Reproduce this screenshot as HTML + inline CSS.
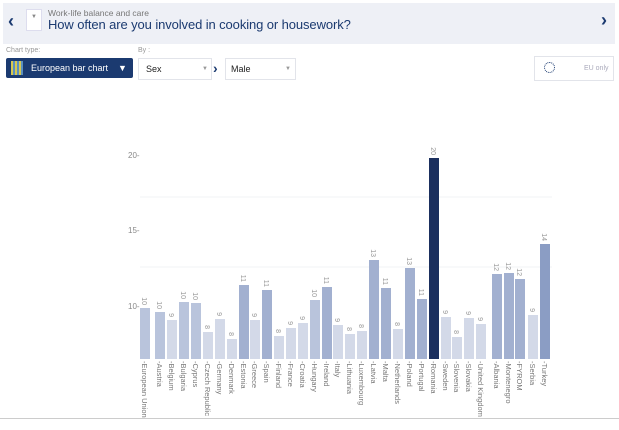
<!DOCTYPE html>
<html><head><meta charset="utf-8"><style>
body{margin:0;width:619px;height:430px;background:#fff;font-family:"Liberation Sans",sans-serif;overflow:hidden;position:relative}
.hdr{position:absolute;left:3px;top:3px;width:612px;height:41px;background:#eef0f6}
.abs{position:absolute}
</style></head><body>
<div class="hdr"></div>
<div class="abs" style="left:8px;top:11px;font-size:18px;color:#1b3a70;font-weight:bold">‹</div>
<div class="abs" style="left:26px;top:9px;width:14px;height:20px;background:#fff;border:1px solid #dde;font-size:6px;color:#888;text-align:center;line-height:14px">▼</div>
<div class="abs" style="left:48px;top:8px;font-size:8.5px;color:#777">Work-life balance and care</div>
<div class="abs" style="left:48px;top:17px;font-size:13px;color:#1b3a70;letter-spacing:-0.1px">How often are you involved in cooking or housework?</div>
<div class="abs" style="left:601px;top:10px;font-size:18px;color:#1b3a70;font-weight:bold">›</div>
<div class="abs" style="left:6px;top:47px;font-size:7px;color:#999">Chart type:</div>
<div class="abs" style="left:138px;top:47px;font-size:7px;color:#999">By :</div>
<div class="abs" style="left:6px;top:58px;width:127px;height:20px;background:#1b3a70;border-radius:2px"></div>
<div class="abs" style="left:11px;top:61px;width:12px;height:14px;background:repeating-linear-gradient(90deg,#d6c850 0 2px,#5a8fc0 2px 4px)"></div>
<div class="abs" style="left:31px;top:63px;font-size:9px;color:#fff">European bar chart</div>
<div class="abs" style="left:118px;top:63px;font-size:9px;color:#fff">▼</div>
<div class="abs" style="left:138px;top:58px;width:72px;height:20px;border:1px solid #e2e4ea;background:#fff"></div>
<div class="abs" style="left:146px;top:64px;font-size:9px;color:#222">Sex</div>
<div class="abs" style="left:202px;top:66px;font-size:6px;color:#999">▼</div>
<div class="abs" style="left:213px;top:60px;font-size:14px;color:#1b3a70;font-weight:bold">›</div>
<div class="abs" style="left:225px;top:58px;width:69px;height:20px;border:1px solid #e2e4ea;background:#fff"></div>
<div class="abs" style="left:231px;top:64px;font-size:9px;color:#222">Male</div>
<div class="abs" style="left:285px;top:66px;font-size:6px;color:#999">▼</div>
<div class="abs" style="left:534px;top:56px;width:78px;height:23px;border:1px solid #e2e4ea;background:#fff"></div>
<div class="abs" style="left:544px;top:62px;width:9px;height:9px;border:1px dotted #1b3a70;border-radius:50%"></div>
<div class="abs" style="left:584px;top:65px;font-size:7px;color:#aab">EU only</div>
<div class="abs" style="left:0;top:418px;width:619px;height:1px;background:#ccc"></div>
<svg class="abs" style="left:0;top:0" width="619" height="430" font-family="Liberation Sans, sans-serif">
<g stroke="#f2f3f6"><line x1="140" y1="197" x2="552" y2="197"/><line x1="140" y1="267" x2="552" y2="267"/></g>
<g font-size="8" fill="#888"><text x="128" y="158">20-</text><text x="128" y="233">15-</text><text x="128" y="309">10-</text></g>
<g id="bars"></g>
</svg>
<script>
var d=[["European Union",140,308,"10"],["Austria",155,312,"10"],["Belgium",167,320,"9"],["Bulgaria",179,302,"10"],["Cyprus",191,303,"10"],["Czech Republic",203,332,"8"],["Germany",215,319,"9"],["Denmark",227,339,"8"],["Estonia",239,285,"11"],["Greece",250,320,"9"],["Spain",262,290,"11"],["Finland",274,336,"8"],["France",286,328,"9"],["Croatia",298,323,"9"],["Hungary",310,300,"10"],["Ireland",322,287,"11"],["Italy",333,325,"9"],["Lithuania",345,334,"8"],["Luxembourg",357,331,"8"],["Latvia",369,260,"13"],["Malta",381,288,"11"],["Netherlands",393,329,"8"],["Poland",405,268,"13"],["Portugal",417,299,"11"],["Romania",429,158,"20"],["Sweden",441,317,"9"],["Slovenia",452,337,"8"],["Slovakia",464,318,"9"],["United Kingdom",476,324,"9"],["Albania",492,274,"12"],["Montenegro",504,273,"12"],["FYROM",515,279,"12"],["Serbia",528,315,"9"],["Turkey",540,244,"14"]];
var s="";
d.forEach(function(b){var h=359-b[2];var c=b[2]<300?(b[2]<255?"#8b9dc4":"#a2b0d0"):(b[2]<315?"#b9c4dc":"#d3d9e8");if(b[0]=="Romania")c="#1b2f5e";
s+='<rect x="'+b[1]+'" y="'+b[2]+'" width="10" height="'+h+'" fill="'+c+'"/>';
var cx=b[1]+5;
s+='<text transform="translate('+(cx-3)+','+(b[2]-3)+') rotate(90)" font-size="7" fill="#999" text-anchor="end">'+b[3]+'</text>';
s+='<text transform="translate('+(cx-3)+',361) rotate(90)" font-size="7.5" fill="#777">-'+b[0]+'</text>';});
document.getElementById("bars").innerHTML=s;
</script>
</body></html>
